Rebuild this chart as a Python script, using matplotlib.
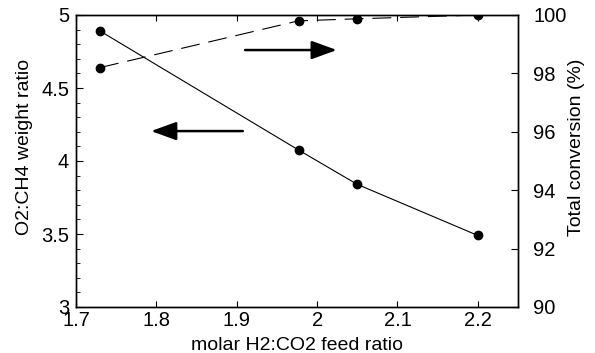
import matplotlib
matplotlib.use("Agg")
import matplotlib.pyplot as plt
import matplotlib.ticker as ticker

# feed ratio (x) shared by both series
h2_co2 = [1.73, 1.977, 2.05, 2.2]
o2_ch4_ratio = [4.89, 4.075, 3.84, 3.49]
conversion = [98.2, 99.8, 99.87, 100.0]

plt.rcParams["font.family"] = ["Liberation Sans", "DejaVu Sans"]
plt.rcParams["font.size"] = 14

fig = plt.figure(figsize=(5.95, 3.53), dpi=100)
ax = fig.add_axes([76 / 595, 1 - 307 / 353, 442 / 595, 292 / 353])
ax2 = ax.twinx()

ax.plot(h2_co2, o2_ch4_ratio, color="black", linewidth=0.8,
        marker="o", markersize=6)
ax2.plot(h2_co2, conversion, color="black", linewidth=0.8,
         linestyle=(0, (17, 8)), marker="o", markersize=6)

ax.set_xlim(1.7, 2.25)
ax.set_ylim(3, 5)
ax2.set_ylim(90, 100)
ax.set_xticks([1.7, 1.8, 1.9, 2.0, 2.1, 2.2])
ax.set_xticklabels(["1.7", "1.8", "1.9", "2", "2.1", "2.2"])
ax.set_yticks([3, 3.5, 4, 4.5, 5])
ax.set_yticklabels(["3", "3.5", "4", "4.5", "5"])
ax.yaxis.set_minor_locator(ticker.MultipleLocator(0.1))
ax2.set_yticks([90, 92, 94, 96, 98, 100])

ax.tick_params(axis="both", which="both", direction="in", top=True,
               right=False, labelsize=14.5)
ax.tick_params(axis="y", which="major", length=5, pad=5)
ax.tick_params(axis="y", which="minor", length=3)
ax.tick_params(axis="x", length=4, pad=3)
ax2.tick_params(axis="y", direction="in", length=5, labelsize=14.5, pad=11)

for a in (ax, ax2):
    for s in a.spines.values():
        s.set_linewidth(1.0)

ax.set_xlabel("molar H2:CO2 feed ratio", fontsize=14, labelpad=5)
ax.set_ylabel("O2:CH4 weight ratio", fontsize=14)
ax2.set_ylabel("Total conversion (%)", fontsize=14)
ax.yaxis.set_label_coords(-0.097, 0.548)
ax2.yaxis.set_label_coords(1.113, 0.548)

# direction arrows
ax.annotate("", xy=(2.028, 4.76), xytext=(1.907, 4.76),
            arrowprops=dict(arrowstyle="-|>,head_length=1.1,head_width=0.4",
                            color="black", lw=1.8))
ax.annotate("", xy=(1.79, 4.205), xytext=(1.911, 4.205),
            arrowprops=dict(arrowstyle="-|>,head_length=1.1,head_width=0.4",
                            color="black", lw=1.8))

fig.savefig("out.png", dpi=100)
